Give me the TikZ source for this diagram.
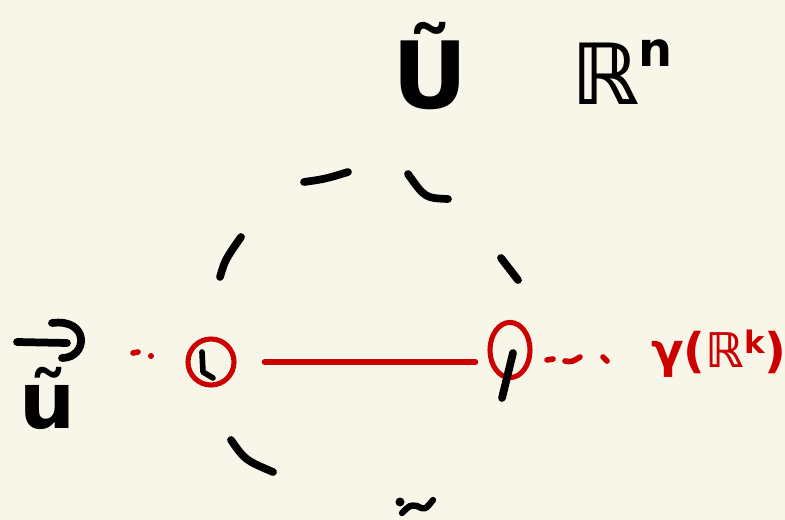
\documentclass[tikz,border=0pt]{standalone}
\usepackage{fontspec}
\setmainfont{DejaVu Sans}
\usepackage{tikz}
\usetikzlibrary{shapes.geometric, positioning}
\definecolor{paper}{RGB}{248,245,233}
\definecolor{inkred}{RGB}{205,0,0}
\tikzstyle{ink}=[line width=5.5pt, line cap=round, line join=round, black]
\tikzstyle{redink}=[line width=4pt, line cap=round, line join=round, color=inkred]
\tikzstyle{ring}=[draw=inkred, line width=3.6pt, inner sep=0pt]
\tikzstyle{label}=[inner sep=0pt, font=\bfseries\fontsize{66}{68}\selectfont]

\begin{document}
\begin{tikzpicture}[x=0.025cm, y=-0.025cm]
  \fill[paper] (0,0) rectangle (785,520);
  \useasboundingbox (0,0) rectangle (785,520);
  % the two marked points
  \node[ring, circle, minimum size=1.15cm] (p) at (211,362) {};
  \node[ring, ellipse, minimum width=1cm, minimum height=1.38cm] (q) at (510,350) {};
  \draw[redink, shorten <=0.7cm, shorten >=0.3cm] (p.east) -- (p.east -| q.west);
  % labels
  \node[label] (U) at (430,66) {Ũ};
  \node[label, font=\bfseries\fontsize{60}{62}\selectfont] (Rn) at (622,72) {ℝ\raisebox{0.45em}{\fontsize{34}{36}\selectfont n}};
  \node[label, font=\bfseries\fontsize{34}{36}\selectfont, text=inkred] (gam) at (719,354) {γ(ℝ\raisebox{0.3em}{\fontsize{22}{24}\selectfont k})};
  \node[label, font=\bfseries\fontsize{56}{58}\selectfont] (u) at (48,398) {ũ};
  % dashed arc round the points
  \draw[ink] (304,182) .. controls (325,179) .. (348,172);
  \draw[ink] (408,174) .. controls (425,198) .. (448,199);
  \draw[ink] (241,237) .. controls (225,260) .. (220,277);
  \draw[ink] (501,258) -- (518,280);
  \draw[ink] (231,440) .. controls (245,460) .. (273,472);
  \draw[ink] (513,353) -- (502,398);
  % mark inside the left point
  \draw[ink, line width=4pt] (202,352) -- (203,372) -- (213,378);
  % sideways sign on the left
  \draw[ink] (17,342) -- (67,343);
  \draw[ink] (52,323) .. controls (90,318) and (88,358) .. (62,358);
  % red dots left and right
  \draw[redink] (133,353) -- (138,352);
  \fill[inkred] (151,356) circle (3);
  \draw[redink] (547,360) -- (553,359);
  \draw[redink] (565,361) .. controls (572,362) .. (580,357);
  \draw[redink] (603,357) -- (607,361);
  % cut-off mark at the bottom
  \fill (400,502) circle (4.5);
  \draw[ink, line width=4.5pt] (402,513) .. controls (410,505) .. (417,506) .. controls (425,510) .. (433,500);
\end{tikzpicture}
\end{document}
